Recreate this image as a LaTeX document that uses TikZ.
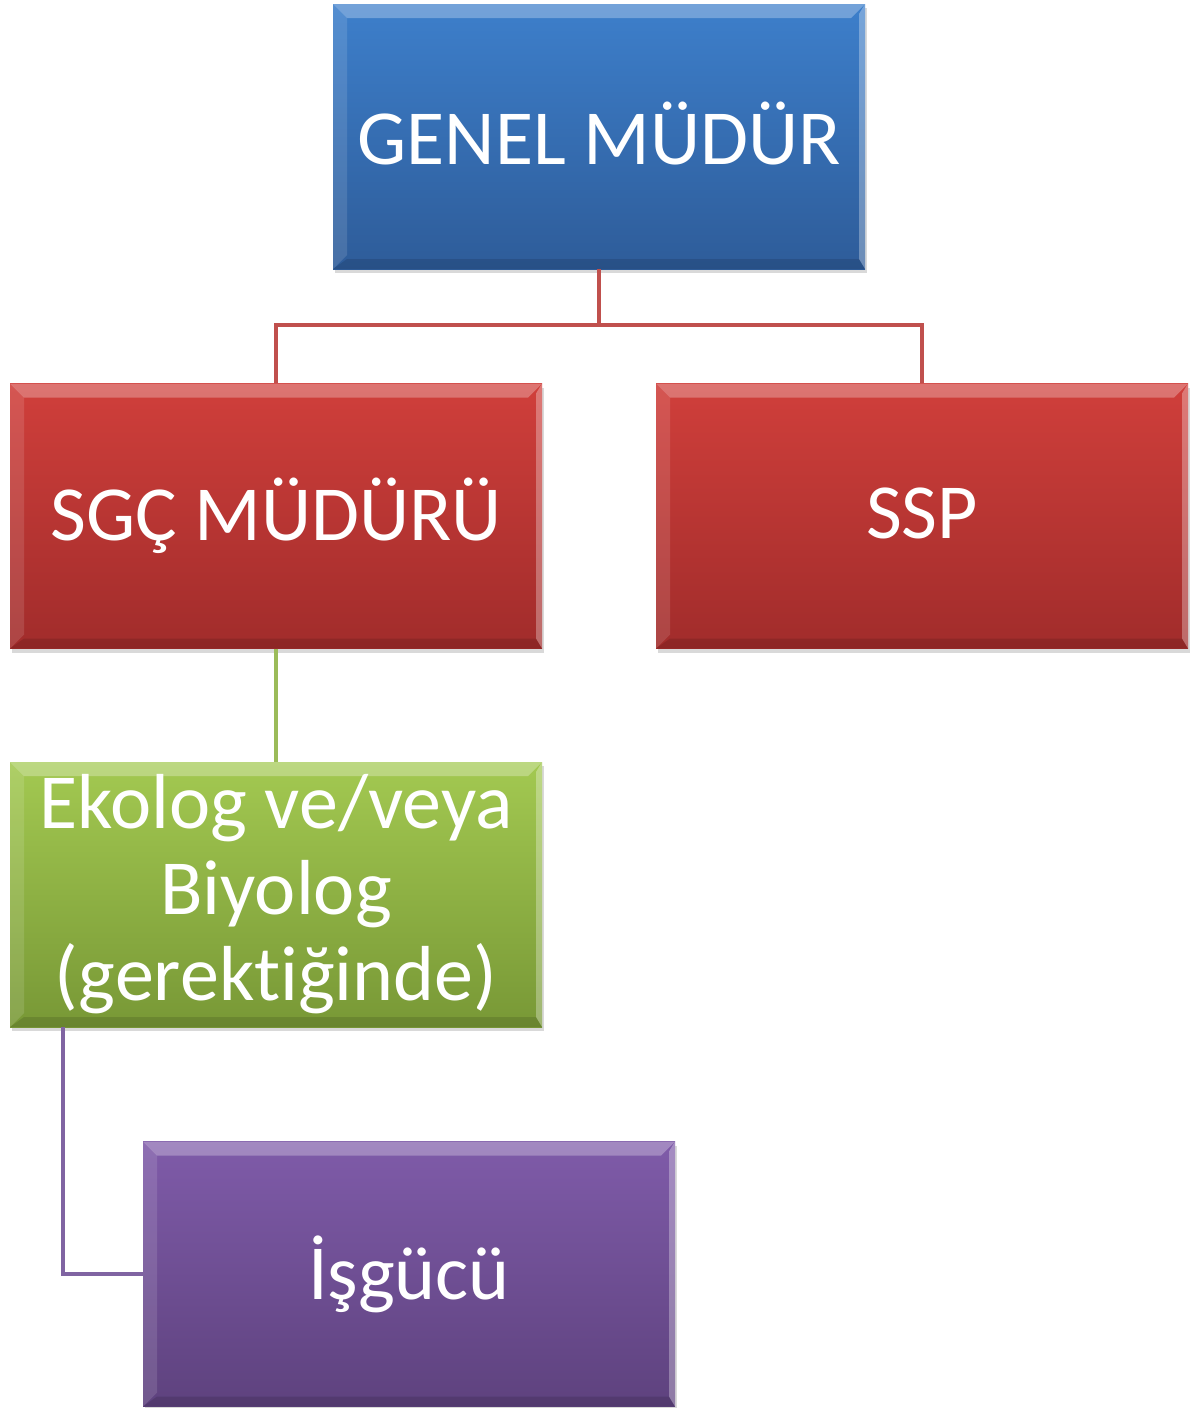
\documentclass[tikz,border=0pt]{standalone}
\usepackage{fontspec}
\setmainfont[Ligatures={NoCommon}]{Carlito}
\usetikzlibrary{shadows,calc}
\definecolor{bluetop}{HTML}{3D7FCB}
\definecolor{bluebot}{HTML}{2E5C99}
\definecolor{redtop}{HTML}{D03F3B}
\definecolor{redbot}{HTML}{A12C2B}
\definecolor{greentop}{HTML}{A3C951}
\definecolor{greenbot}{HTML}{789836}
\definecolor{purptop}{HTML}{7F5BA9}
\definecolor{purpbot}{HTML}{5E427E}
\definecolor{redln}{HTML}{C0504D}
\definecolor{greenln}{HTML}{9BBB59}
\definecolor{purpln}{HTML}{8064A2}
\newcommand{\uptxt}[1]{\raisebox{6pt}{#1}}
\tikzset{
  orgbox/.style n args={2}{
    rectangle, minimum width=532pt, minimum height=265pt, inner sep=0pt,
    top color=#1, bottom color=#2, text=white, align=center,
    font=\fontsize{78}{86}\selectfont,
    drop shadow={opacity=0.3, shadow xshift=2pt, shadow yshift=-4pt},
    path picture={
      \fill[white,opacity=0.28] (path picture bounding box.north west) -- (path picture bounding box.north east)
        -- ([shift={(-14pt,-14pt)}]path picture bounding box.north east) -- ([shift={(14pt,-14pt)}]path picture bounding box.north west) -- cycle;
      \fill[white,opacity=0.12] (path picture bounding box.north west) -- ([shift={(14pt,-14pt)}]path picture bounding box.north west)
        -- ([shift={(14pt,14pt)}]path picture bounding box.south west) -- (path picture bounding box.south west) -- cycle;
      \fill[white,opacity=0.3] (path picture bounding box.north east) -- ([shift={(-6pt,-10pt)}]path picture bounding box.north east)
        -- ([shift={(-6pt,10pt)}]path picture bounding box.south east) -- (path picture bounding box.south east) -- cycle;
      \fill[black,opacity=0.12] (path picture bounding box.south west) -- (path picture bounding box.south east)
        -- ([shift={(-6pt,10pt)}]path picture bounding box.south east) -- ([shift={(14pt,10pt)}]path picture bounding box.south west) -- cycle;
    }
  },
  conn/.style={line width=4.5pt, draw=#1}
}
\begin{document}
\begin{tikzpicture}[x=1pt,y=-1pt]
\useasboundingbox (0,0) rectangle (1194,1408);
\coordinate (bus) at (599,325);
\node[orgbox={bluetop}{bluebot}] (gm) at (599,136.5) {\uptxt{GENEL MÜDÜR}};
\node[orgbox={redtop}{redbot}] (sgc) at (276,516) {\uptxt{SGÇ MÜDÜRÜ}};
\node[orgbox={redtop}{redbot}] (ssp) at (922,516) {\uptxt{SSP}};
\node[orgbox={greentop}{greenbot}] (eko) at (276,894.5) {Ekolog ve/veya\\Biyolog\\(gerektiğinde)};
\node[orgbox={purptop}{purpbot}] (isg) at (409,1274) {\uptxt{İşgücü}};
\draw[conn=redln] (gm.south) -- (bus);
\draw[conn=redln] (bus) -| (sgc.north);
\draw[conn=redln] (bus) -| (ssp.north);
\draw[conn=greenln] (sgc.south) -- (eko.north);
\coordinate (pv) at ($(eko.south west)+(53,0)$);
\draw[conn=purpln] (pv) |- (isg.west);
\end{tikzpicture}
\end{document}
